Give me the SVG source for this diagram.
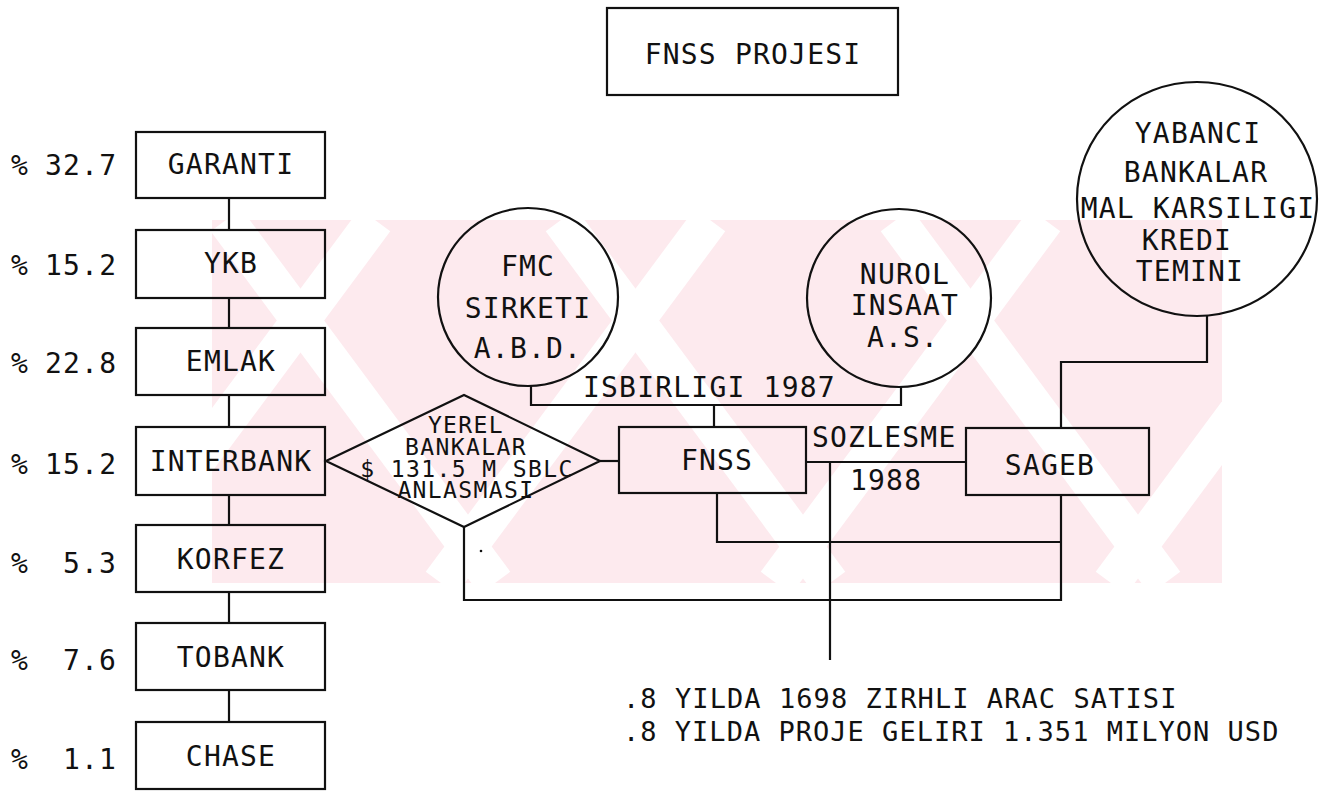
<svg xmlns="http://www.w3.org/2000/svg" width="1327" height="792" viewBox="0 0 1327 792">
<style>
.t{font-family:"DejaVu Sans Mono","Liberation Mono",monospace;font-size:28px;letter-spacing:1.2px;fill:#111;white-space:pre}
.d{font-size:23px;letter-spacing:1.4px}
.s{font-size:27px;letter-spacing:0.6px}
.box{fill:none;stroke:#111;stroke-width:2.2}
.ln{fill:none;stroke:#111;stroke-width:2.2}
.wg{stroke:#fff;stroke-width:38;fill:none}
</style>
<defs>
<clipPath id="wmclip"><rect x="212" y="220" width="1010" height="363"/></clipPath>
</defs>
<rect width="1327" height="792" fill="#fff"/>
<g id="watermark" clip-path="url(#wmclip)">
<rect x="212" y="220" width="1010" height="363" fill="#fdeaee"/>
<line class="wg" x1="375" y1="220" x2="106" y2="583"/>
<line class="wg" x1="710" y1="220" x2="441" y2="583"/>
<line class="wg" x1="1045" y1="220" x2="776" y2="583"/>
<line class="wg" x1="1380" y1="220" x2="1111" y2="583"/>
<line class="wg" x1="226" y1="220" x2="495" y2="583"/>
<line class="wg" x1="561" y1="220" x2="830" y2="583"/>
<line class="wg" x1="896" y1="220" x2="1165" y2="583"/>
<line class="wg" x1="-109" y1="220" x2="160" y2="583"/>
</g>
<g id="connectors">
<path class="ln" d="M229 198V230M229 298V328M229 395V427M229 495V525M229 592V623M229 690V722"/>
<path class="ln" d="M600 461H619"/>
<path class="ln" d="M531 386V405H901V387M714 405V427"/>
<path class="ln" d="M806 462H966M830 462V660"/>
<path class="ln" d="M717 493V542H1061"/>
<path class="ln" d="M1061 495V600H464V527"/>
<path class="ln" d="M1207 316V362H1061V428"/>
<circle cx="481" cy="551" r="1.3" fill="#111"/>
</g>
<g id="title"><rect class="box" x="607" y="8" width="291" height="87"/><text class="t" x="753" y="64" text-anchor="middle">FNSS PROJESI</text></g>
<g id="garanti"><text class="t" x="11" y="175">%</text><text class="t" x="45" y="175">32.7</text><rect class="box" x="136" y="132" width="189" height="66"/><text class="t" x="231" y="174" text-anchor="middle">GARANTI</text></g>
<g id="ykb"><text class="t" x="11" y="275">%</text><text class="t" x="45" y="275">15.2</text><rect class="box" x="136" y="230" width="189" height="68"/><text class="t" x="231" y="273" text-anchor="middle">YKB</text></g>
<g id="emlak"><text class="t" x="11" y="373">%</text><text class="t" x="45" y="373">22.8</text><rect class="box" x="136" y="328" width="189" height="67"/><text class="t" x="231" y="371" text-anchor="middle">EMLAK</text></g>
<g id="interbank"><text class="t" x="11" y="474">%</text><text class="t" x="45" y="474">15.2</text><rect class="box" x="136" y="427" width="189" height="68"/><text class="t" x="231" y="471" text-anchor="middle">INTERBANK</text></g>
<g id="korfez"><text class="t" x="11" y="573">%</text><text class="t" x="63" y="573">5.3</text><rect class="box" x="136" y="525" width="189" height="67"/><text class="t" x="231" y="569" text-anchor="middle">KORFEZ</text></g>
<g id="tobank"><text class="t" x="11" y="670">%</text><text class="t" x="63" y="670">7.6</text><rect class="box" x="136" y="623" width="189" height="67"/><text class="t" x="231" y="667" text-anchor="middle">TOBANK</text></g>
<g id="chase"><text class="t" x="11" y="769">%</text><text class="t" x="63" y="769">1.1</text><rect class="box" x="136" y="722" width="189" height="67"/><text class="t" x="231" y="766" text-anchor="middle">CHASE</text></g>
<g id="yerel"><polygon class="box" points="326,461 464,395 600,461 464,527"/>
<text class="t d" x="466" y="433" text-anchor="middle">YEREL</text>
<text class="t d" x="466" y="455" text-anchor="middle">BANKALAR</text>
<text class="t d" x="467" y="477" text-anchor="middle">$ 131.5 M SBLC</text>
<text class="t d" x="466" y="498" text-anchor="middle">ANLASMASI</text></g>
<g id="fmc"><ellipse class="box" cx="528" cy="297" rx="90" ry="89"/>
<text class="t" x="528" y="276" text-anchor="middle">FMC</text>
<text class="t" x="528" y="318" text-anchor="middle">SIRKETI</text>
<text class="t" x="528" y="358" text-anchor="middle">A.B.D.</text></g>
<g id="nurol"><ellipse class="box" cx="899" cy="298" rx="92" ry="89"/>
<text class="t" x="905" y="284" text-anchor="middle">NUROL</text>
<text class="t" x="905" y="315" text-anchor="middle">INSAAT</text>
<text class="t" x="903" y="347" text-anchor="middle">A.S.</text></g>
<g id="yabanci"><ellipse class="box" cx="1197" cy="199" rx="120" ry="117"/>
<text class="t" x="1198" y="143" text-anchor="middle">YABANCI</text>
<text class="t" x="1196" y="182" text-anchor="middle">BANKALAR</text>
<text class="t" x="1198" y="218" text-anchor="middle">MAL KARSILIGI</text>
<text class="t" x="1187" y="250" text-anchor="middle">KREDI</text>
<text class="t" x="1190" y="281" text-anchor="middle">TEMINI</text></g>
<g id="fnss"><rect class="box" x="619" y="427" width="187" height="66"/><text class="t" x="717" y="470" text-anchor="middle">FNSS</text></g>
<g id="sageb"><rect class="box" x="966" y="428" width="183" height="67"/><text class="t" x="1050" y="475" text-anchor="middle">SAGEB</text></g>
<g id="labels">
<text class="t" x="583" y="397">ISBIRLIGI 1987</text>
<text class="t" x="812" y="447">SOZLESME</text>
<text class="t" x="850" y="490">1988</text>
<text class="t s" x="623" y="708" textLength="554" lengthAdjust="spacing">.8 YILDA 1698 ZIRHLI ARAC SATISI</text>
<text class="t s" x="623" y="741" textLength="656" lengthAdjust="spacing">.8 YILDA PROJE GELIRI 1.351 MILYON USD</text>
</g>
</svg>
